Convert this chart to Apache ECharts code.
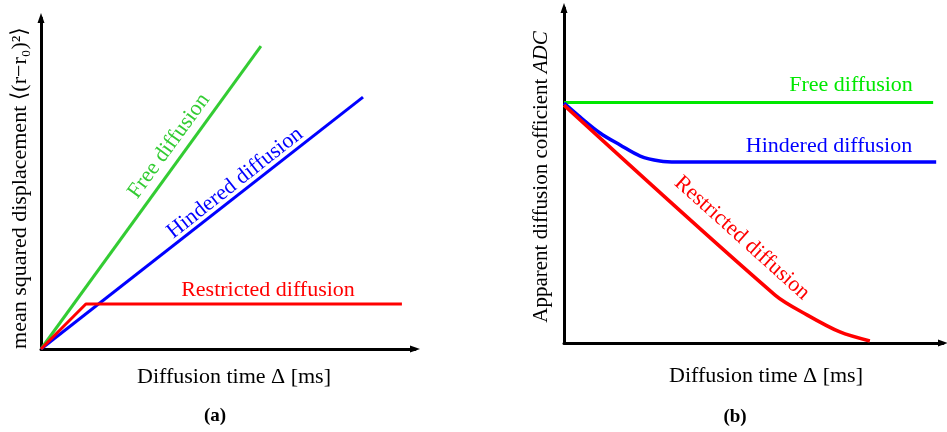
<!DOCTYPE html>
<html>
<head>
<meta charset="utf-8">
<script src="https://cdn.jsdelivr.net/npm/echarts@6/dist/echarts.min.js"></script>
<style>
  html, body { margin: 0; padding: 0; background: #fff; }
  #chart { width: 947px; height: 432px; }
</style>
</head>
<body>
<div id="chart"></div>
<script>
// Panel (a): mean squared displacement vs diffusion time (arbitrary units 0-100)
const msdFree = [[0, 0], [58.8, 91.5]];
const msdHindered = [[0, 0], [86.1, 76.1]];
const msdRestricted = [[0, 0], [12.0, 13.6], [96.5, 13.6]];

// Panel (b): apparent diffusion coefficient vs diffusion time (arbitrary units 0-100)
const adcFree = [[0, 71.8], [97.4, 71.8]];
const adcHindered = [[0, 71.6], [4.2, 67.5], [9.5, 62.7], [14.8, 59.1], [20.1, 55.8], [25.3, 54.3], [29.8, 54.0], [98.2, 54.0]];
const adcRestricted = [[0, 71.0], [55.7, 14.3], [64.1, 8.4], [72.8, 3.3], [80.7, 0.6]];

const serif = '"Liberation Serif", "DejaVu Serif", serif';
const greenA = '#33cc33';
const greenB = '#00e800';
const blue = '#0000ff';
const red = '#ff0000';

function axis(gridIndex) {
  return {
    type: 'value', gridIndex, min: 0, max: 100,
    axisLine: {
      show: true, onZero: false,
      symbol: ['none', 'triangle'], symbolSize: [7, 10],
      lineStyle: { color: '#000', width: 3 }
    },
    axisTick: { show: false }, axisLabel: { show: false }, splitLine: { show: false }
  };
}

function line(data, color, xi, width, smooth) {
  return {
    type: 'line', data, xAxisIndex: xi, yAxisIndex: xi,
    showSymbol: false, symbol: 'none', smooth: smooth || false,
    lineStyle: { color, width: width || 3 }, silent: true, animation: false
  };
}

function txt(x, y, text, color, size, deg, weight) {
  return {
    type: 'text', x, y, rotation: (deg || 0) * Math.PI / 180, silent: true,
    style: {
      text, fill: color, font: (weight ? weight + ' ' : '') + size + 'px ' + serif,
      align: 'center', verticalAlign: 'middle'
    }
  };
}

const chart = echarts.init(document.getElementById('chart'), null, { renderer: 'canvas' });
chart.setOption({
  backgroundColor: '#fff',
  animation: false,
  grid: [
    { left: 41, top: 18, width: 374, height: 331 },
    { left: 564, top: 8, width: 379, height: 335 }
  ],
  xAxis: [axis(0), axis(1)],
  yAxis: [axis(0), axis(1)],
  series: [
    line(msdFree, greenA, 0),
    line(msdHindered, blue, 0),
    line(msdRestricted, red, 0),
    line(adcFree, greenB, 1),
    line(adcHindered, blue, 1, 3.5, 0.35),
    line(adcRestricted, red, 1, 3.5, 0.3)
  ],
  graphic: [
    // panel (a)
    txt(169, 146, 'Free diffusion', greenA, 22, 54),
    txt(235, 183, 'Hindered diffusion', blue, 22, 38.2),
    txt(268, 290, 'Restricted diffusion', red, 22, 0),
    txt(20, 188, 'mean squared displacement \u27E8(r\u2212r\u2080)\u00B2\u27E9', '#000', 22, 90),
    txt(234, 377, 'Diffusion time \u0394 [ms]', '#000', 22, 0),
    txt(215, 416, '(a)', '#000', 19, 0, 'bold'),
    // panel (b)
    txt(851, 85, 'Free diffusion', greenB, 22, 0),
    txt(829, 146, 'Hindered diffusion', blue, 22, 0),
    txt(742, 238, 'Restricted diffusion', red, 22, -42),
    {
      type: 'text', x: 541, y: 177, rotation: Math.PI / 2, silent: true,
      style: {
        text: '{n|Apparent diffusion cofficient }{i|ADC}',
        align: 'center', verticalAlign: 'middle',
        rich: {
          n: { font: '21px ' + serif, fill: '#000' },
          i: { font: 'italic 21px ' + serif, fill: '#000' }
        }
      }
    },
    txt(766, 376, 'Diffusion time \u0394 [ms]', '#000', 22, 0),
    txt(735, 417, '(b)', '#000', 19, 0, 'bold')
  ]
});
</script>
</body>
</html>
